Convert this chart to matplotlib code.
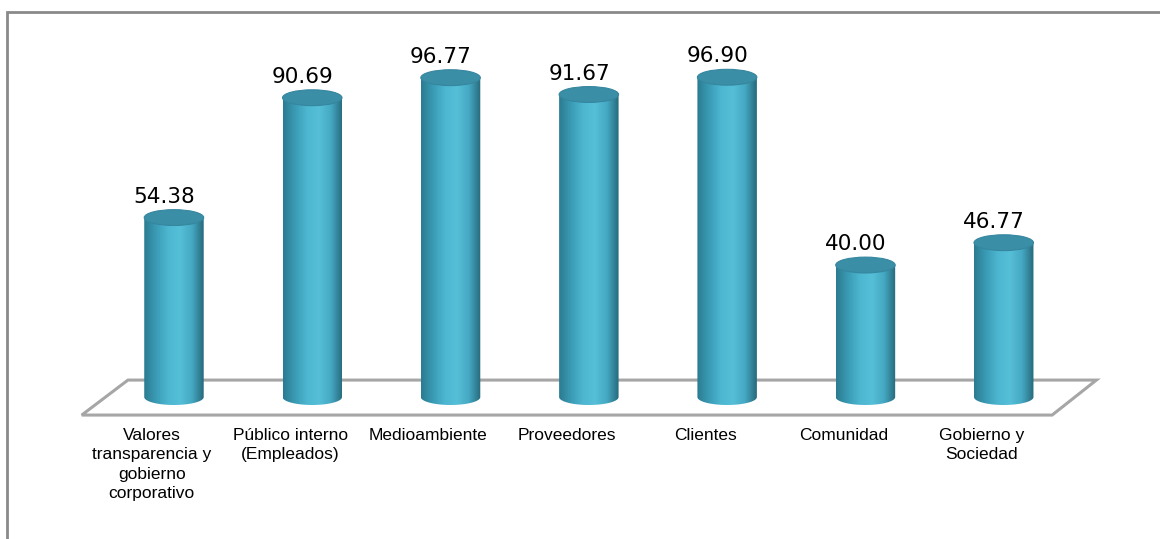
import numpy as np
import matplotlib.pyplot as plt
from matplotlib.path import Path
from matplotlib.patches import PathPatch, Ellipse, Polygon, Rectangle
from matplotlib.colors import LinearSegmentedColormap

categorias = ["Valores\ntransparencia y\ngobierno\ncorporativo",
              "Público interno\n(Empleados)",
              "Medioambiente",
              "Proveedores",
              "Clientes",
              "Comunidad",
              "Gobierno y\nSociedad"]
valores = [54.38, 90.69, 96.77, 91.67, 96.90, 40.00, 46.77]

# cylinder look
ancho = 0.43
elip = 2.4
sombra = LinearSegmentedColormap.from_list(
    "cil", ["#2b7b90", "#3a9bb5", "#4db6d0", "#56bfd8", "#45a9c3", "#26697b"])
grad = np.linspace(0, 1, 256).reshape(1, -1)

fig = plt.figure(figsize=(11.6, 5.39), dpi=100)
ax = fig.add_axes([0, 0, 1, 1])
ax.set_xlim(-1.258, 7.13)
ax.set_ylim(-43.0, 120.3)
ax.axis("off")

# outer frame
fig.patches.append(Rectangle((7 / 1160, -0.1), 1.2, 1 - 12 / 539 + 0.1,
                             transform=fig.transFigure, fill=False,
                             edgecolor="#8a8a8a", linewidth=2))

# floor
n = len(valores)
piso = Polygon([(-0.667, -5.45), (-0.333, 5.15), (n - 1 + 0.67, 5.15),
                (n - 1 + 0.35, -5.45)], closed=True, facecolor="white",
               edgecolor="#a6a6a6", linewidth=2.2, zorder=1)
ax.add_patch(piso)

t = np.linspace(np.pi, 2 * np.pi, 60)
for i, v in enumerate(valores):
    x0 = i - ancho / 2
    x1 = i + ancho / 2
    pts = [(x0, v), (x0, 0)]
    pts += list(zip(i + ancho / 2 * np.cos(t), elip * np.sin(t)))
    pts += [(x1, v), (x0, v)]
    cuerpo = PathPatch(Path(pts), facecolor="none", edgecolor="none",
                       transform=ax.transData)
    ax.add_patch(cuerpo)
    im = ax.imshow(grad, cmap=sombra, aspect="auto", zorder=2,
                   extent=[x0, x1, -elip, v], interpolation="bicubic")
    im.set_clip_path(cuerpo)
    ax.add_patch(Ellipse((i, v), ancho, 2 * elip, facecolor="#3a8ea5",
                         edgecolor="#3686a0", linewidth=0.8, zorder=3))
    ax.text(i - 0.07, v + elip + 0.9, f"{v:.2f}", ha="center", va="bottom",
            fontsize=15.5, family="DejaVu Sans", color="black", zorder=4)
    ax.text(i - 0.16, -9.3, categorias[i], ha="center", va="top",
            fontsize=12.5, family="Liberation Sans",
            linespacing=1.38, color="black")

fig.savefig("out.png", dpi=100)
